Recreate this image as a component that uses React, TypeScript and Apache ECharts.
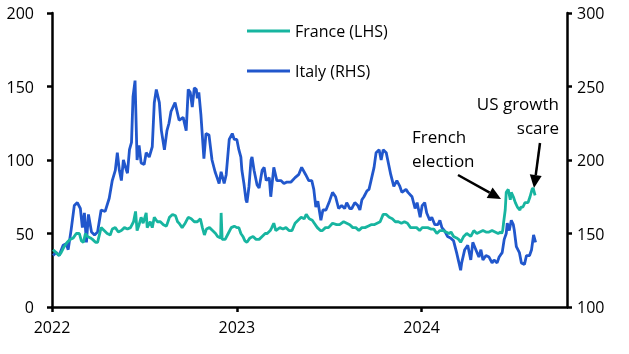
import React, { useEffect, useRef } from "react";
import * as echarts from "echarts";

const italyDates = [
  "2022-01-03","2022-01-09","2022-01-15","2022-01-23","2022-01-29","2022-02-02","2022-02-08","2022-02-14","2022-02-20","2022-02-26",
  "2022-03-02","2022-03-06","2022-03-10","2022-03-14","2022-03-20","2022-03-26","2022-04-01","2022-04-08","2022-04-16","2022-04-24",
  "2022-04-30","2022-05-06","2022-05-10","2022-05-14","2022-05-18","2022-05-22","2022-05-28","2022-05-30","2022-06-03","2022-06-07",
  "2022-06-10","2022-06-14","2022-06-18","2022-06-22","2022-06-26","2022-07-02","2022-07-06","2022-07-12","2022-07-18","2022-07-22",
  "2022-07-26","2022-08-01","2022-08-05","2022-08-11","2022-08-16","2022-08-20","2022-08-24","2022-09-01","2022-09-09","2022-09-17",
  "2022-09-23","2022-09-27","2022-10-01","2022-10-05","2022-10-09","2022-10-13","2022-10-15","2022-10-18","2022-10-22","2022-10-28",
  "2022-11-01","2022-11-07","2022-11-13","2022-11-19","2022-11-23","2022-11-27","2022-12-01","2022-12-07","2022-12-11","2022-12-17",
  "2022-12-23","2022-12-27","2023-01-01","2023-01-05","2023-01-09","2023-01-11","2023-01-15","2023-01-19","2023-01-21","2023-01-25",
  "2023-01-29","2023-01-31","2023-02-04","2023-02-10","2023-02-14","2023-02-20","2023-02-24","2023-02-28","2023-03-06","2023-03-09",
  "2023-03-15","2023-03-21","2023-03-29","2023-04-04","2023-04-10","2023-04-18","2023-04-26","2023-05-03","2023-05-09","2023-05-17",
  "2023-05-23","2023-05-29","2023-06-02","2023-06-06","2023-06-10","2023-06-16","2023-06-20","2023-06-26","2023-07-03","2023-07-09",
  "2023-07-15","2023-07-21","2023-07-27","2023-08-02","2023-08-06","2023-08-12","2023-08-16","2023-08-22","2023-08-28","2023-09-01",
  "2023-09-05","2023-09-09","2023-09-15","2023-09-19","2023-09-23","2023-09-29","2023-10-03","2023-10-09","2023-10-13","2023-10-17",
  "2023-10-23","2023-10-26","2023-11-01","2023-11-07","2023-11-13","2023-11-19","2023-11-23","2023-12-01","2023-12-05","2023-12-13",
  "2023-12-19","2023-12-23","2023-12-29","2024-01-02","2024-01-07","2024-01-11","2024-01-17","2024-01-21","2024-01-27","2024-02-02",
  "2024-02-06","2024-02-10","2024-02-15","2024-02-21","2024-02-27","2024-03-04","2024-03-10","2024-03-14","2024-03-18","2024-03-20",
  "2024-03-26","2024-04-01","2024-04-07","2024-04-11","2024-04-17","2024-04-23","2024-04-27","2024-05-01","2024-05-07","2024-05-13",
  "2024-05-19","2024-05-23","2024-05-29","2024-06-02","2024-06-08","2024-06-12","2024-06-16","2024-06-18","2024-06-22","2024-06-26",
  "2024-06-30","2024-07-02","2024-07-06","2024-07-12","2024-07-16","2024-07-22","2024-07-26","2024-08-01","2024-08-05","2024-08-09",
  "2024-08-13"
];
const italyValues = [
  135,137,135,142,143,139,153,169,171,167,
  154,164,144,163,151,149,151,166,165,174,
  186,193,205,193,186,200,193,191,207,212,
  243,254,200,210,198,197,205,202,209,239,
  248,239,220,207,220,225,233,239,227,229,
  220,248,246,236,249,248,242,246,231,201,
  218,217,200,192,188,184,192,184,190,214,
  218,214,214,207,202,193,184,173,171,182,
  200,202,193,183,181,193,195,186,188,175,
  195,186,186,184,185,185,188,190,195,190,
  186,186,180,168,172,159,166,166,172,178,
  175,167,169,167,171,167,167,171,169,166,
  173,175,179,180,186,195,205,207,200,207,
  205,200,190,182,186,182,178,180,178,175,
  167,171,161,169,171,164,159,161,156,156,
  159,154,152,148,147,145,137,131,125,130,
  139,142,132,144,139,134,139,132,135,134,
  130,132,130,134,137,146,150,157,152,159,
  156,152,141,137,130,129,135,135,139,149,
  144
];

const franceDates = [
  "2022-01-03","2022-01-09","2022-01-15","2022-01-19","2022-01-25","2022-01-31","2022-02-06","2022-02-12","2022-02-18","2022-02-24",
  "2022-02-28","2022-03-04","2022-03-08","2022-03-12","2022-03-18","2022-03-22","2022-03-28","2022-04-01","2022-04-08","2022-04-14",
  "2022-04-20","2022-04-26","2022-04-30","2022-05-06","2022-05-12","2022-05-18","2022-05-24","2022-05-30","2022-06-05","2022-06-11",
  "2022-06-15","2022-06-18","2022-06-22","2022-06-26","2022-06-30","2022-07-06","2022-07-08","2022-07-14","2022-07-18","2022-07-22",
  "2022-07-28","2022-08-03","2022-08-09","2022-08-15","2022-08-21","2022-08-27","2022-09-02","2022-09-06","2022-09-09","2022-09-15",
  "2022-09-21","2022-09-27","2022-10-03","2022-10-09","2022-10-15","2022-10-21","2022-10-25","2022-10-29","2022-11-02","2022-11-08",
  "2022-11-14","2022-11-20","2022-11-24","2022-11-30","2022-12-01","2022-12-03","2022-12-09","2022-12-15","2022-12-21","2022-12-27",
  "2023-01-01","2023-01-05","2023-01-09","2023-01-13","2023-01-17","2023-01-21","2023-01-27","2023-02-02","2023-02-08","2023-02-14",
  "2023-02-20","2023-02-26","2023-03-02","2023-03-08","2023-03-11","2023-03-15","2023-03-19","2023-03-23","2023-03-27","2023-04-02",
  "2023-04-08","2023-04-14","2023-04-20","2023-04-26","2023-05-02","2023-05-08","2023-05-14","2023-05-18","2023-05-24","2023-05-30",
  "2023-06-03","2023-06-09","2023-06-15","2023-06-19","2023-06-25","2023-07-01","2023-07-09","2023-07-17","2023-07-23","2023-07-31",
  "2023-08-06","2023-08-12","2023-08-18","2023-08-24","2023-08-30","2023-09-05","2023-09-11","2023-09-17","2023-09-23","2023-09-29",
  "2023-10-05","2023-10-11","2023-10-17","2023-10-23","2023-10-29","2023-11-04","2023-11-10","2023-11-16","2023-11-22","2023-11-28",
  "2023-12-04","2023-12-10","2023-12-16","2023-12-22","2023-12-28","2024-01-02","2024-01-07","2024-01-13","2024-01-19","2024-01-25",
  "2024-01-31","2024-02-06","2024-02-12","2024-02-18","2024-02-24","2024-02-28","2024-03-04","2024-03-10","2024-03-14","2024-03-18",
  "2024-03-24","2024-03-30","2024-04-03","2024-04-07","2024-04-13","2024-04-19","2024-04-25","2024-05-01","2024-05-07","2024-05-13",
  "2024-05-19","2024-05-25","2024-05-31","2024-06-05","2024-06-07","2024-06-09","2024-06-11","2024-06-14","2024-06-16","2024-06-20",
  "2024-06-24","2024-06-26","2024-06-30","2024-07-04","2024-07-08","2024-07-13","2024-07-15","2024-07-19","2024-07-23","2024-07-27",
  "2024-07-29","2024-08-02","2024-08-06","2024-08-08","2024-08-12"
];
const franceValues = [
  39,37,35,37,41,44,46,47,50,50,
  45,44,50,48,47,46,44,44,54,52,
  50,49,53,54,51,52,54,53,54,58,
  65,52,56,61,57,64,54,58,54,61,
  58,58,56,55,61,63,62,58,57,54,
  57,61,60,58,58,60,54,49,53,54,
  52,50,48,47,64,46,46,50,54,55,
  54,54,50,48,45,44,47,48,46,46,
  48,50,50,52,54,57,52,53,54,53,
  54,52,52,57,59,61,60,63,60,59,
  57,54,52,52,54,54,57,56,56,58,
  57,56,54,54,52,54,54,55,56,56,
  57,58,63,63,61,60,58,58,57,58,
  57,54,54,54,52,54,54,54,53,53,
  50,52,52,51,50,51,48,47,46,44,
  48,50,49,48,52,50,51,52,51,51,
  52,51,50,51,50,52,58,66,78,80,
  73,78,75,71,68,66,68,68,71,71,
  71,75,80,81,76
];

const yLeftTicks = { min: 0, max: 200, interval: 50 };
const yRightTicks = { min: 100, max: 300, interval: 50 };
const xTickDates = ["2022-01-01", "2023-01-01", "2024-01-01"];
const xRange = { min: "2022-01-01", max: "2024-10-14" };

const FONT = "'Open Sans', 'Noto Sans', sans-serif";
const FRANCE_COLOR = "#17b5a0";
const ITALY_COLOR = "#2157cc";

const ts = (d: string) => Date.parse(d + "T00:00:00Z");

export default function App() {
  const ref = useRef<HTMLDivElement>(null);
  useEffect(() => {
    if (!ref.current) return;
    const chart = echarts.init(ref.current, undefined, { renderer: "svg" });
    const italyData = italyDates.map((d, i) => [ts(d), italyValues[i]]);
    const franceData = franceDates.map((d, i) => [ts(d), franceValues[i]]);
    const xTicks = xTickDates.map(ts);
    const axisLineStyle = { color: "#000", width: 2.5 };
    const labelStyle = { color: "#000", fontSize: 16, fontFamily: FONT };

    const arrow = (x1: number, y1: number, tx: number, ty: number) => {
      const dx = tx - x1, dy = ty - y1;
      const len = Math.sqrt(dx * dx + dy * dy);
      const ux = dx / len, uy = dy / len;
      const bx = tx - 13 * ux, by = ty - 13 * uy;
      const px = -uy * 6, py = ux * 6;
      return [
        { type: "line", shape: { x1, y1, x2: bx, y2: by }, style: { stroke: "#000", lineWidth: 2.5 } },
        { type: "polygon", shape: { points: [[tx, ty], [bx + px, by + py], [bx - px, by - py]] }, style: { fill: "#000" } },
      ];
    };

    const legendBase = {
      orient: "vertical", left: 247, padding: 0,
      itemWidth: 43, itemHeight: 3, icon: "rect", selectedMode: false,
      textStyle: { color: "#000", fontSize: 16, fontFamily: FONT, lineHeight: 20 },
    };

    chart.setOption({
      animation: false,
      textStyle: { fontFamily: FONT },
      grid: { left: 52, right: 62, top: 13, bottom: 47, containLabel: false },
      legend: [
        { ...legendBase, data: ["France (LHS)"], top: 21 },
        { ...legendBase, data: ["Italy (RHS)"], top: 61 },
      ],
      xAxis: {
        type: "value",
        min: ts(xRange.min),
        max: ts(xRange.max),
        axisLine: { show: true, lineStyle: axisLineStyle },
        axisTick: { show: true, length: 5, lineStyle: axisLineStyle, customValues: xTicks },
        axisLabel: {
          ...labelStyle, margin: 12, customValues: xTicks,
          formatter: (v: number) => String(new Date(v).getUTCFullYear()),
        },
        splitLine: { show: false },
      },
      yAxis: [
        {
          type: "value", position: "left", ...yLeftTicks,
          axisLine: { show: true, lineStyle: axisLineStyle },
          axisTick: { show: true, length: 5, lineStyle: axisLineStyle },
          axisLabel: { ...labelStyle, margin: 18 },
          splitLine: { show: false },
        },
        {
          type: "value", position: "right", ...yRightTicks,
          axisLine: { show: true, lineStyle: axisLineStyle },
          axisTick: { show: true, length: 5, lineStyle: axisLineStyle },
          axisLabel: { ...labelStyle, margin: 10 },
          splitLine: { show: false },
        },
      ],
      series: [
        {
          name: "France (LHS)", type: "line", yAxisIndex: 0, data: franceData,
          symbol: "none", lineStyle: { color: FRANCE_COLOR, width: 2.8 }, itemStyle: { color: FRANCE_COLOR }, z: 3,
        },
        {
          name: "Italy (RHS)", type: "line", yAxisIndex: 1, data: italyData,
          symbol: "none", lineStyle: { color: ITALY_COLOR, width: 2.8 }, itemStyle: { color: ITALY_COLOR }, z: 2,
        },
      ],
      graphic: [
        {
          type: "text", left: 412, top: 124,
          style: { text: "French\nelection", fill: "#000", fontSize: 17, lineHeight: 24, fontFamily: FONT },
        },
        {
          type: "text", x: 559, y: 91,
          style: { text: "US growth\nscare", fill: "#000", fontSize: 17, lineHeight: 24, fontFamily: FONT, align: "right", verticalAlign: "top" },
        },
        ...arrow(458, 175, 501, 199),
        ...arrow(540, 143, 534, 188),
      ],
    });
    return () => chart.dispose();
  }, []);
  return <div ref={ref} style={{ position: "fixed", left: 0, top: 0, width: 629, height: 354 }} />;
}
